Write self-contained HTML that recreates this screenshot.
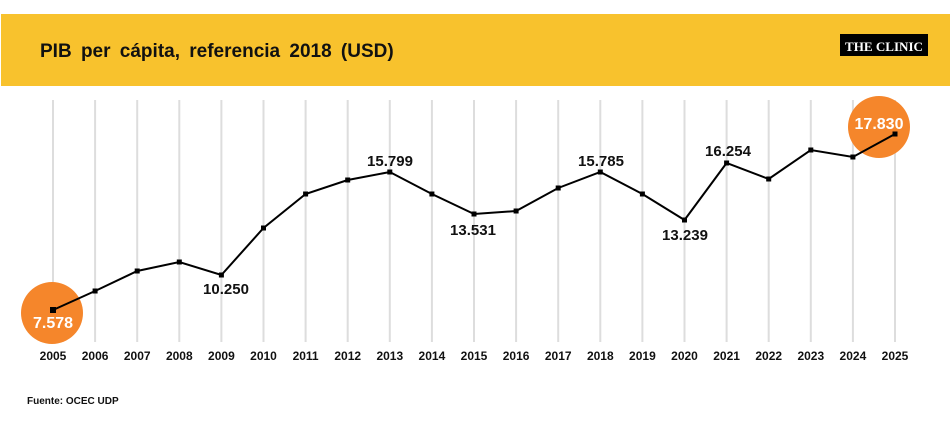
<!DOCTYPE html>
<html><head><meta charset="utf-8"><style>
body{margin:0;background:#fff;}
svg{display:block;font-family:"Liberation Sans",sans-serif;font-weight:bold;}
</style></head><body>
<svg width="950" height="430" viewBox="0 0 950 430">
<rect x="1" y="14" width="949" height="72" fill="#F8C22D"/>
<text x="40" y="57" font-size="19" fill="#111" word-spacing="4">PIB per cápita, referencia 2018 (USD)</text>
<rect x="840" y="34" width="88" height="22" fill="#000"/>
<text x="884" y="51" font-size="13" fill="#fff" text-anchor="middle" font-family="Liberation Serif,serif" font-weight="bold" textLength="78" lengthAdjust="spacingAndGlyphs">THE CLINIC</text>
<g stroke="#ddd" stroke-width="2">
<line x1="53.0" y1="100" x2="53.0" y2="342"/><line x1="95.1" y1="100" x2="95.1" y2="342"/><line x1="137.2" y1="100" x2="137.2" y2="342"/><line x1="179.3" y1="100" x2="179.3" y2="342"/><line x1="221.4" y1="100" x2="221.4" y2="342"/><line x1="263.5" y1="100" x2="263.5" y2="342"/><line x1="305.6" y1="100" x2="305.6" y2="342"/><line x1="347.7" y1="100" x2="347.7" y2="342"/><line x1="389.8" y1="100" x2="389.8" y2="342"/><line x1="431.9" y1="100" x2="431.9" y2="342"/><line x1="474.0" y1="100" x2="474.0" y2="342"/><line x1="516.1" y1="100" x2="516.1" y2="342"/><line x1="558.2" y1="100" x2="558.2" y2="342"/><line x1="600.3" y1="100" x2="600.3" y2="342"/><line x1="642.4" y1="100" x2="642.4" y2="342"/><line x1="684.5" y1="100" x2="684.5" y2="342"/><line x1="726.6" y1="100" x2="726.6" y2="342"/><line x1="768.7" y1="100" x2="768.7" y2="342"/><line x1="810.8" y1="100" x2="810.8" y2="342"/><line x1="852.9" y1="100" x2="852.9" y2="342"/><line x1="895.0" y1="100" x2="895.0" y2="342"/>
</g>
<circle cx="52" cy="313" r="31" fill="#F5862B"/>
<circle cx="879" cy="127" r="31" fill="#F5862B"/>
<polyline fill="none" stroke="#000" stroke-width="2" points="53,310 95.1,291 137.2,271 179.3,262 221.4,275 263.5,228 305.6,194 347.7,180 389.8,172 431.9,194 474,214 516.1,211 558.2,188 600.3,172 642.4,194 684.5,220 726.6,163 768.7,179 810.8,150 852.9,157 895,134"/>
<g fill="#000">
<rect x="50" y="307" width="6" height="6"/><rect x="92.6" y="288.5" width="5" height="5"/><rect x="134.7" y="268.5" width="5" height="5"/><rect x="176.8" y="259.5" width="5" height="5"/><rect x="218.9" y="272.5" width="5" height="5"/><rect x="261" y="225.5" width="5" height="5"/><rect x="303.1" y="191.5" width="5" height="5"/><rect x="345.2" y="177.5" width="5" height="5"/><rect x="387.3" y="169.5" width="5" height="5"/><rect x="429.4" y="191.5" width="5" height="5"/><rect x="471.5" y="211.5" width="5" height="5"/><rect x="513.6" y="208.5" width="5" height="5"/><rect x="555.7" y="185.5" width="5" height="5"/><rect x="597.8" y="169.5" width="5" height="5"/><rect x="639.9" y="191.5" width="5" height="5"/><rect x="682" y="217.5" width="5" height="5"/><rect x="724.1" y="160.5" width="5" height="5"/><rect x="766.2" y="176.5" width="5" height="5"/><rect x="808.3" y="147.5" width="5" height="5"/><rect x="850.4" y="154.5" width="5" height="5"/><rect x="892.5" y="131.5" width="5" height="5"/>
</g>
<g font-size="15" text-anchor="middle" fill="#111">
<text x="226" y="294">10.250</text>
<text x="390" y="166">15.799</text>
<text x="473" y="235">13.531</text>
<text x="601" y="166">15.785</text>
<text x="685" y="240">13.239</text>
<text x="728" y="156">16.254</text>
</g>
<g font-size="16" text-anchor="middle" fill="#fff">
<text x="53" y="328">7.578</text>
<text x="879" y="129">17.830</text>
</g>
<g font-size="12" text-anchor="middle" fill="#111">
<text x="53" y="360">2005</text><text x="95.1" y="360">2006</text><text x="137.2" y="360">2007</text><text x="179.3" y="360">2008</text><text x="221.4" y="360">2009</text><text x="263.5" y="360">2010</text><text x="305.6" y="360">2011</text><text x="347.7" y="360">2012</text><text x="389.8" y="360">2013</text><text x="431.9" y="360">2014</text><text x="474" y="360">2015</text><text x="516.1" y="360">2016</text><text x="558.2" y="360">2017</text><text x="600.3" y="360">2018</text><text x="642.4" y="360">2019</text><text x="684.5" y="360">2020</text><text x="726.6" y="360">2021</text><text x="768.7" y="360">2022</text><text x="810.8" y="360">2023</text><text x="852.9" y="360">2024</text><text x="895" y="360">2025</text>
</g>
<text x="27" y="404" font-size="10" fill="#111">Fuente: OCEC UDP</text>
</svg>
</body></html>
